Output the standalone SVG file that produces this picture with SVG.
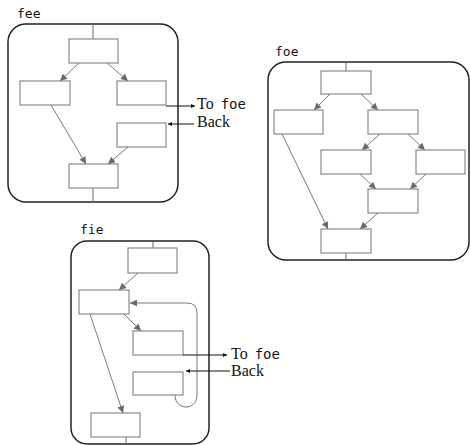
<svg xmlns="http://www.w3.org/2000/svg" width="470" height="445" viewBox="0 0 470 445">
<style>
.cont{fill:none;stroke:#222;stroke-width:1.5}
.box{fill:#fff;stroke:#8a8a8a;stroke-width:1.2}
.stem{stroke:#666;stroke-width:1;fill:none}
.e{stroke:#7a7a7a;stroke-width:1;fill:none;marker-end:url(#ag)}
.x{stroke:#111;stroke-width:1;fill:none;marker-end:url(#ab)}
.lbl{font-family:"DejaVu Sans Mono",monospace;font-size:13px;fill:#111}
.t{font-family:"Liberation Serif",serif;font-size:16px;fill:#111}
.m{font-family:"DejaVu Sans Mono",monospace;font-size:14px}
</style>
<defs>
<marker id="ag" viewBox="0 0 10 10" refX="10" refY="5" markerWidth="9" markerHeight="7" markerUnits="userSpaceOnUse" orient="auto"><path d="M0,0 L10,5 L0,10 z" fill="#6a6a6a"/></marker>
<marker id="ab" viewBox="0 0 10 10" refX="10" refY="5" markerWidth="6" markerHeight="4" markerUnits="userSpaceOnUse" orient="auto"><path d="M0,0 L10,5 L0,10 z" fill="#111"/></marker>
</defs>
<g id="fee">
<text class="lbl" x="17" y="18">fee</text>
<rect class="cont" x="8" y="24" width="170" height="178" rx="18"/>
<line class="stem" x1="93" y1="24" x2="93" y2="39"/>
<line class="stem" x1="93" y1="188" x2="93" y2="202"/>
<rect id="fee-top" class="box" x="69" y="39" width="49" height="24"/>
<rect id="fee-left" class="box" x="20" y="81" width="50" height="24"/>
<rect id="fee-right" class="box" x="117" y="81" width="49" height="24"/>
<rect id="fee-rlow" class="box" x="117" y="123" width="49" height="24"/>
<rect id="fee-bottom" class="box" x="69" y="164" width="49" height="24"/>
</g>
<g id="foe">
<text class="lbl" x="275" y="56">foe</text>
<rect class="cont" x="268" y="62" width="201" height="198" rx="18"/>
<line class="stem" x1="346" y1="62" x2="346" y2="71"/>
<line class="stem" x1="346" y1="253" x2="346" y2="260"/>
<rect id="foe-top" class="box" x="321" y="71" width="50" height="23"/>
<rect id="foe-left" class="box" x="274" y="110" width="49" height="24"/>
<rect id="foe-right" class="box" x="368" y="110" width="50" height="24"/>
<rect id="foe-midl" class="box" x="321" y="150" width="50" height="24"/>
<rect id="foe-midr" class="box" x="416" y="150" width="49" height="24"/>
<rect id="foe-low" class="box" x="368" y="189" width="50" height="24"/>
<rect id="foe-bottom" class="box" x="321" y="229" width="50" height="24"/>
</g>
<g id="fie">
<text class="lbl" x="80" y="234">fie</text>
<rect class="cont" x="71" y="241" width="138" height="203" rx="16"/>
<line class="stem" x1="153" y1="241" x2="153" y2="248"/>
<line class="stem" x1="126" y1="437" x2="126" y2="444"/>
<rect id="fie-top" class="box" x="128" y="248" width="49" height="25"/>
<rect id="fie-left" class="box" x="79" y="290" width="50" height="24"/>
<rect id="fie-mid" class="box" x="133" y="331" width="50" height="24"/>
<rect id="fie-low" class="box" x="133" y="372" width="50" height="23"/>
<rect id="fie-bottom" class="box" x="91" y="413" width="49" height="24"/>
</g>
<g id="connectors">
<path class="e" d="M79,63 L60,81"/>
<path class="e" d="M107,63 L128,81"/>
<path class="e" d="M51,105 L86,164"/>
<path class="e" d="M128,147 L108,164"/>
<path class="x" d="M166,106 H195"/>
<path class="x" d="M194,124 H168"/>
<path class="e" d="M330,94 L314,110"/>
<path class="e" d="M361,94 L378,110"/>
<path class="e" d="M282,134 L328,229"/>
<path class="e" d="M380,134 L362,150"/>
<path class="e" d="M408,134 L425,150"/>
<path class="e" d="M360,174 L376,189"/>
<path class="e" d="M426,174 L410,189"/>
<path class="e" d="M378,213 L360,229"/>
<path class="e" d="M138,273 L119,290"/>
<path class="e" d="M124,314 L141,331"/>
<path class="e" d="M90,314 L123,413"/>
<path class="e" d="M175,395 C175,411 197,411 197,395 V313 Q197,303 187,303 H130"/>
<path class="x" d="M183,355 H227"/>
<path class="x" d="M230,371 H186"/>
</g>
<g id="labels">
<text class="t" x="197" y="109">To <tspan class="m" dx="3">foe</tspan></text>
<text class="t" x="197" y="127">Back</text>
<text class="t" x="231" y="359">To <tspan class="m" dx="3">foe</tspan></text>
<text class="t" x="231" y="376">Back</text>
</g>
</svg>
